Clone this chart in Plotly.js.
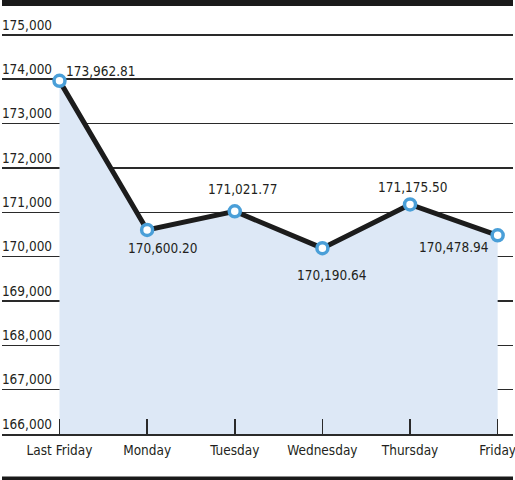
<!DOCTYPE html>
<html>
<head>
<meta charset="utf-8">
<script src="https://cdn.plot.ly/plotly-3.0.1.min.js"></script>
<style>
  html, body { margin: 0; padding: 0; background: #ffffff; }
  #chart { width: 515px; height: 480px; }
</style>
</head>
<body>
<div id="chart"></div>
<script>
// Closing index values for the week
const days = ["Last Friday", "Monday", "Tuesday", "Wednesday", "Thursday", "Friday"];
const closes = [173962.81, 170600.20, 171021.77, 170190.64, 171175.50, 170478.94];
const yTicks = [166000, 167000, 168000, 169000, 170000, 171000, 172000, 173000, 174000, 175000];

// Where each value label sits relative to its point (pixels)
const labelShiftX = [42, 16, 8, 10, 3, -44];
const labelShiftY = [10, -18, 22, -27, 17, -12];

const FONT = '"Liberation Sans Narrow", "DejaVu Sans Condensed", "Arial Narrow", sans-serif';
const INK = '#231f20';
const SIZE = 13.5;

const xIdx = days.map((d, i) => i);

const fmt = v => v.toLocaleString('en-US', { minimumFractionDigits: 2, maximumFractionDigits: 2 });

const trace = {
  x: xIdx,
  y: closes,
  type: 'scatter',
  mode: 'lines+markers',
  fill: 'tozeroy',
  fillcolor: '#dde8f6',
  line: { color: '#1c1c1c', width: 5 },
  marker: { size: 11, color: '#ffffff', line: { color: '#4a9fd8', width: 3.5 } },
  hoverinfo: 'skip'
};

const annotations = closes.map((v, i) => ({
  x: i, y: v, xref: 'x', yref: 'y',
  text: fmt(v),
  showarrow: false,
  xshift: labelShiftX[i],
  yshift: labelShiftY[i],
  font: { family: FONT, size: SIZE, color: INK }
}));

// Heavy rules framing the chart top and bottom
const shapes = [
  { type: 'rect', xref: 'paper', yref: 'paper', x0: 0, x1: 1, y0: 1.049, y1: 1.07,
    fillcolor: '#1a1a1a', line: { width: 0 }, layer: 'above' },
  { type: 'rect', xref: 'paper', yref: 'paper', x0: 0, x1: 1, y0: -0.115, y1: -0.104,
    fillcolor: '#1a1a1a', line: { width: 0 }, layer: 'above' }
];

const layout = {
  width: 515,
  height: 480,
  margin: { l: 2, r: 2, t: 26, b: 46, pad: 0 },
  paper_bgcolor: '#ffffff',
  plot_bgcolor: 'rgba(0,0,0,0)',
  showlegend: false,
  font: { family: FONT, size: SIZE, color: INK },
  xaxis: {
    range: [-0.656, 5.175],
    tickmode: 'array',
    tickvals: xIdx,
    ticktext: days,
    showgrid: false,
    zeroline: false,
    showline: true,
    linecolor: '#2a2a2a',
    linewidth: 1.5,
    ticks: 'inside',
    ticklen: 15,
    tickwidth: 1.5,
    tickcolor: '#2a2a2a',
    ticklabelstandoff: 3,
    ticklabeloverflow: 'allow',
    tickfont: { family: FONT, size: SIZE, color: INK },
    fixedrange: true
  },
  yaxis: {
    range: [166000, 175200],
    anchor: 'free',
    position: 0.102,
    side: 'left',
    tickmode: 'array',
    tickvals: yTicks,
    tickformat: ',d',
    ticklabelposition: 'outside',
    ticklabelshift: -10,
    ticklabelstandoff: 2,
    ticklabeloverflow: 'allow',
    showgrid: true,
    gridcolor: '#2a2a2a',
    gridwidth: 1.5,
    zeroline: false,
    showline: false,
    ticks: '',
    tickfont: { family: FONT, size: SIZE, color: INK },
    fixedrange: true
  },
  annotations: annotations,
  shapes: shapes
};

Plotly.newPlot('chart', [trace], layout, { displayModeBar: false, staticPlot: true });
</script>
</body>
</html>
